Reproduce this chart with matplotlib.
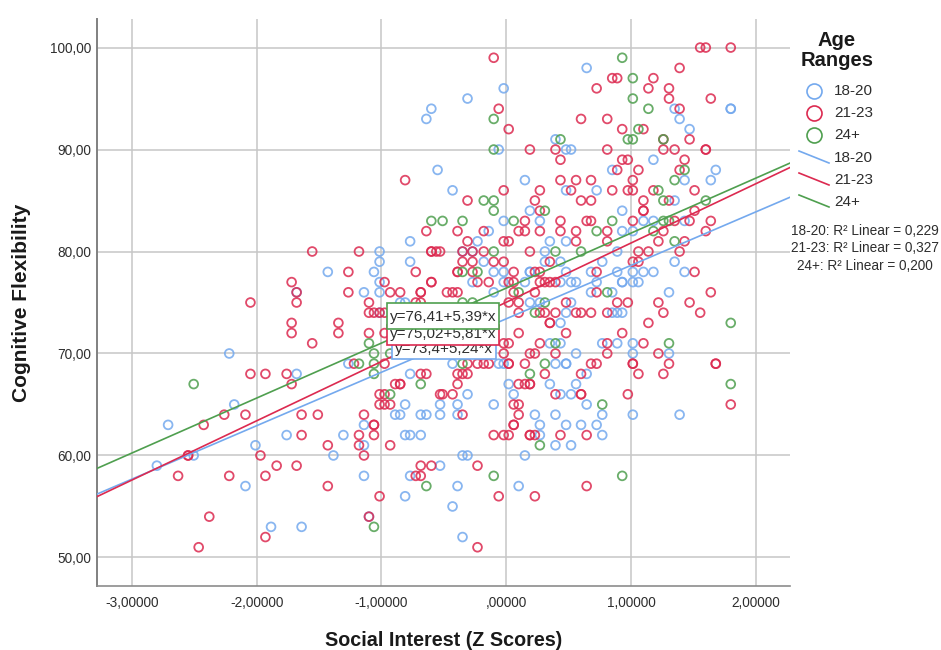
import matplotlib
matplotlib.use("Agg")
import matplotlib.pyplot as plt
from matplotlib.lines import Line2D
from matplotlib.patches import Rectangle

plt.rcParams["font.family"] = ["Liberation Sans", "DejaVu Sans"]

# cognitive flexibility score -> z scores of points on that row
rows_18 = {
    98: [.645], 96: [-.02], 95: [-.31], 94: [-.60, 1.35, 1.80, 1.80], 93: [-.64, 1.39],
    92: [1.47], 91: [.395], 90: [-.06, .48, .52], 89: [1.18], 88: [-.55, .85, 1.68],
    87: [.15, 1.43, 1.64], 86: [-.43, .48, .725], 85: [1.35], 84: [.19, .93],
    83: [-.02, .27, 1.10, 1.18, 1.43], 82: [-.14, .93, 1.015], 81: [-.77, -.23, .35, .48],
    80: [-1.015, -.35, -.27, .31, .89], 79: [-1.015, -.77, -.18, .31, .435, .77, 1.35],
    78: [-1.43, -1.06, -.10, -.02, .19, .19, .48, .68, .89, 1.015, 1.10, 1.18, 1.43],
    77: [-1.015, -.27, -.02, .15, .435, .52, .56, .725, .93, .93, 1.015, 1.06],
    76: [-1.68, -1.14, -1.015, -.10, .68, .85, 1.305], 75: [-.85, -.81, .19, .27, .52],
    74: [-1.015, .48, .85, .89, .93], 73: [.435], 71: [.35, .435, .77, .89, 1.015],
    70: [-2.22, .56, 1.015, 1.305], 69: [-1.265, -.43, -.06, -.02, .395, .48, .48],
    68: [-1.68, -.77, .645], 67: [.02, .35, .56], 66: [-.31, .06, .435, .52],
    65: [-2.18, -.81, -.53, -.39, -.10, .645],
    64: [-.89, -.85, -.685, -.64, -.53, -.39, .23, .395, .77, 1.015, 1.39],
    63: [-2.71, -1.14, .27, .48, .60, .725],
    62: [-1.76, -1.305, -.81, -.77, -.685, .27, .77], 61: [-2.01, -1.14, .395, .52],
    60: [-2.505, -1.385, -.35, -.31, .15], 59: [-2.80, -.53], 58: [-1.14, -.77],
    57: [-2.09, -.39, .10], 56: [-.81], 55: [-.43], 54: [-1.10], 53: [-1.885, -1.64],
    52: [-.35],
}
rows_21 = {
    100: [1.555, 1.60, 1.80], 99: [-.10], 98: [1.39], 97: [.85, .89, 1.18],
    96: [.725, 1.14, 1.305], 95: [1.305, 1.64], 94: [-.06, 1.39], 93: [.60, .81],
    92: [.02, .93, 1.10], 91: [1.26, 1.47], 90: [.19, .395, .81, 1.26, 1.35, 1.60, 1.60],
    89: [.435, .93, .975, 1.43], 88: [.89, 1.06, 1.39], 87: [-.81, .435, .56, .68, 1.015],
    86: [-.02, .27, .52, .85, .975, 1.015, 1.18, 1.51], 85: [-.31, .23, .60, .68, 1.10, 1.305],
    84: [.27, 1.10, 1.10, 1.51], 83: [.15, .435, .645, .68, 1.015, 1.35, 1.47, 1.64],
    82: [-.64, -.39, -.18, .10, .15, .27, .435, .56, .81, 1.26, 1.60],
    81: [-.31, -.02, .02, .56, .81, 1.22, 1.43],
    80: [-1.555, -1.18, -.60, -.60, -.56, -.53, -.35, -.27, -.18, .19, 1.06, 1.14, 1.39],
    79: [-.35, -.27, -.10, -.02, .35, 1.015, 1.06],
    78: [-1.265, -.725, -.39, -.39, -.27, .06, .23, .27, .725, 1.51],
    77: [-1.72, -.975, -.60, -.60, -.23, -.14, .02, .06, .27, .31, .35, .395],
    76: [-1.68, -1.265, -.93, -.85, -.685, -.685, -.475, -.43, -.39, .06, .23, .725, 1.64],
    75: [-2.05, -1.68, -1.10, -.725, -.685, .02, .10, .48, .89, .975, 1.22, 1.47],
    74: [-1.10, -1.06, -1.015, -.975, .10, .27, .31, .395, .56, .60, .68, .81, 1.26, 1.555],
    73: [-1.72, -1.345, .35, .35, 1.14], 72: [-1.72, -1.345, -1.10, -.975, .10, .48, .93],
    71: [-1.555, -.02, .02, .27, .81, 1.10], 70: [-.02, .19, .23, .395, .81, 1.22],
    69: [-1.22, -.975, -.31, -.23, -.18, -.14, .02, .02, .15, .68, .725, 1.015, 1.015,
         1.305, 1.68, 1.68],
    68: [-2.05, -1.93, -1.76, -.685, -.64, -.39, -.35, -.31, .31, .60, 1.06, 1.26],
    67: [-1.72, -.89, -.85, -.85, -.39, .10, .15, .19, .19],
    66: [-1.015, -.975, -.53, -.51, -.43, .395, .60, .60, .975],
    65: [-1.015, -.975, -.93, .06, .10, 1.80],
    64: [-2.26, -2.09, -1.64, -1.51, -1.14, -.35, .10], 63: [-2.425, -1.06, -1.06, .06, .06],
    62: [-1.64, -1.18, -1.06, -.10, -.02, .02, .19, .19, .23, .435, .645],
    61: [-1.43, -1.18, -.93], 60: [-2.55, -2.55, -1.97, -1.14],
    59: [-1.84, -1.68, -.685, -.60, -.23], 58: [-2.63, -2.22, -1.93, -.725, -.685],
    57: [-1.43, .645], 56: [-1.015, -.06, .23], 54: [-2.38, -1.10], 52: [-1.93],
    51: [-2.465, -.23],
}
rows_24 = {
    99: [.93], 97: [1.015], 95: [1.015], 94: [1.14], 93: [-.10], 92: [1.06],
    91: [.435, .975, 1.015, 1.26], 90: [-.10], 88: [1.43], 87: [1.35], 86: [1.22],
    85: [-.18, -.10, 1.26, 1.60], 84: [-.10, .31],
    83: [-.60, -.51, -.35, .06, .85, 1.26, 1.305], 82: [.725, 1.18], 81: [1.35],
    80: [-.10, .395, .60], 78: [-.35, -.23], 76: [.10, .81], 75: [-.35, -.27, .31],
    74: [.23], 73: [1.80], 71: [-1.10, .395, 1.305], 70: [-1.06, -.93],
    69: [-1.18, -1.06, -.35, .31], 68: [-1.06, .19], 67: [-2.505, -.685, 1.80], 66: [-.93],
    65: [.77], 61: [.27], 58: [-.10, .93], 57: [-.64], 53: [-1.06],
}

age_groups = ["18-20", "21-23", "24+"]
intercepts = [73.4, 75.02, 76.41]
slopes = [5.24, 5.81, 5.39]
r_squared = ["0,229", "0,327", "0,200"]
equations = ["y=73,4+5,24*x", "y=75,02+5,81*x", "y=76,41+5,39*x"]

x_ticks = [-3, -2, -1, 0, 1, 2]
x_tick_labels = ["-3,00000", "-2,00000", "-1,00000", ",00000", "1,00000", "2,00000"]
y_ticks = [50, 60, 70, 80, 90, 100]
y_tick_labels = ["50,00", "60,00", "70,00", "80,00", "90,00", "100,00"]

colors = ["#74a9ee", "#dc2a50", "#4f9f4f"]
text_color = "#2e2e2e"
W, H = 941, 650


def fx(px):
    return px / W


def fy(py):
    return 1 - py / H


def expand(rows):
    xs, ys = [], []
    for score, values in rows.items():
        for v in values:
            xs.append(v)
            ys.append(score)
    return xs, ys


def draw_equation_box(fig, left, top, right, bottom, color, order):
    fig.add_artist(Rectangle((fx(left), fy(bottom)), (right - left) / W, (bottom - top) / H,
                             transform=fig.transFigure, facecolor="white", edgecolor=color,
                             linewidth=1.2, zorder=order))


def main():
    fig = plt.figure(figsize=(W / 100, H / 100), dpi=100)
    ax = fig.add_axes([fx(97), fy(586), (790 - 97) / W, (586 - 19) / H])

    xlim = (-3.28, 2.275)
    ylim = (47.2, 102.8)
    ax.set_xlim(xlim)
    ax.set_ylim(ylim)

    ax.set_axisbelow(True)
    ax.grid(True, color="#c6c6c6", linewidth=1.1)
    ax.set_xticks(x_ticks)
    ax.set_xticklabels(x_tick_labels)
    ax.set_yticks(y_ticks)
    ax.set_yticklabels(y_tick_labels)
    ax.tick_params(axis="both", length=0, labelsize=9.8, labelcolor=text_color)
    ax.tick_params(axis="x", pad=7)
    ax.tick_params(axis="y", pad=4)

    ax.spines["top"].set_visible(False)
    ax.spines["right"].set_visible(False)
    ax.spines["left"].set_color("#808080")
    ax.spines["left"].set_linewidth(1.4)
    ax.spines["bottom"].set_color("#8c8c8c")
    ax.spines["bottom"].set_linewidth(1.2)

    for rows, color in zip([rows_18, rows_21, rows_24], colors):
        xs, ys = expand(rows)
        ax.scatter(xs, ys, s=40, facecolors="none", edgecolors=color, linewidths=1.3,
                   alpha=0.85, clip_on=False, zorder=3)

    for a, b, color in zip(intercepts, slopes, colors):
        ax.plot(xlim, [a + b * xlim[0], a + b * xlim[1]], color=color, linewidth=1.2, zorder=4)

    fig.text(fx(444), fy(640), "Social Interest (Z Scores)", fontsize=14.2, fontweight="bold",
             color="#1a1a1a", ha="center", va="center")
    fig.text(fx(22), fy(303), "Cognitive Flexibility", fontsize=15, fontweight="bold",
             color="#1a1a1a", rotation=90, ha="center", va="center")

    # equation labels sit on top of each other, blue first and green last
    boxes = [(392, 340, 496, 359, 349), (387, 325, 499, 345, 334), (387, 303, 499, 329, 317)]
    for i, (left, top, right, bottom, mid) in enumerate(boxes):
        order = 10 + 2 * i
        draw_equation_box(fig, left, top, right, bottom, colors[i], order)
        fig.text(fx((left + right) / 2), fy(mid), equations[i], fontsize=11, color=text_color,
                 ha="center", va="center", zorder=order + 1)

    # legend
    fig.text(fx(837), fy(40), "Age", fontsize=14.5, fontweight="bold", color="#1a1a1a",
             ha="center", va="center")
    fig.text(fx(837), fy(61), "Ranges", fontsize=14.5, fontweight="bold", color="#1a1a1a",
             ha="center", va="center")
    for i, group in enumerate(age_groups):
        my = 91 + 22 * i
        fig.add_artist(Line2D([fx(814)], [fy(my)], marker="o", markersize=10.8, linestyle="none",
                              markerfacecolor="none", markeredgecolor=colors[i],
                              markeredgewidth=1.2, transform=fig.transFigure))
        fig.text(fx(834), fy(my), group, fontsize=11, color=text_color, ha="left", va="center")

        ly = 151 + 22 * i
        fig.add_artist(Line2D([fx(799), fx(829)], [fy(ly), fy(ly + 12)], color=colors[i],
                              linewidth=1.2, transform=fig.transFigure))
        fig.text(fx(834), fy(ly + 7), group, fontsize=11, color=text_color, ha="left", va="center")

        fig.text(fx(865), fy(231 + 17.5 * i), f"{group}: R² Linear = {r_squared[i]}",
                 fontsize=9.8, color=text_color, ha="center", va="center")

    fig.savefig("out.png", dpi=100)


if __name__ == "__main__":
    main()
